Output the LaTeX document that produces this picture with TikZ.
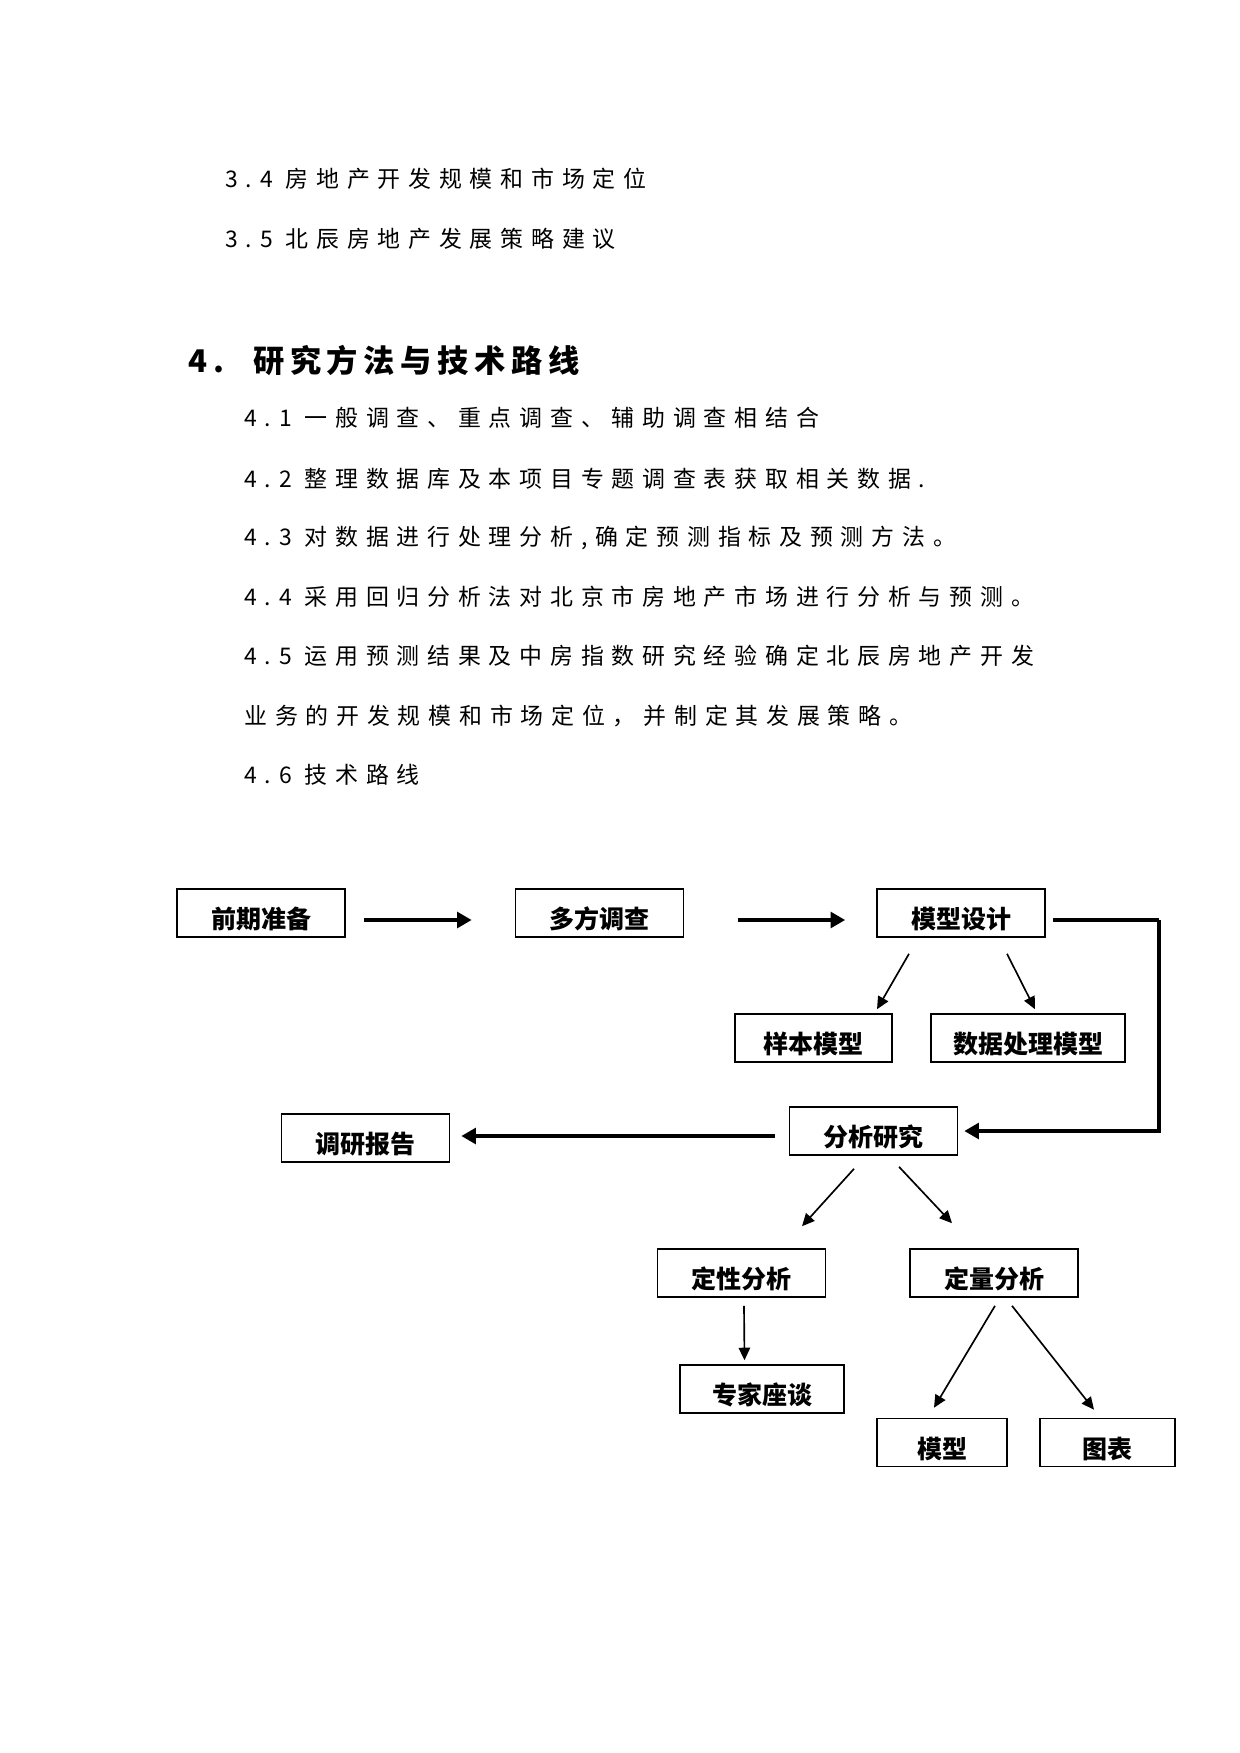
\documentclass[tikz,border=0pt]{standalone}
\usepackage{fontspec}
\setmainfont{Noto Sans CJK SC}
\newfontfamily\bodyfont{Noto Sans CJK SC}[LetterSpace=34]
\newfontfamily\headfont{Noto Sans CJK SC}[LetterSpace=18]
\usetikzlibrary{arrows.meta,calc,positioning}
% boxes of the route chart, text sits low in the box
\tikzstyle{route box}=[draw, line width=0.8pt, minimum width=80.6pt,
  minimum height=23pt, inner sep=2pt, text height=15pt, text depth=0pt,
  font=\bfseries\fontsize{12}{12}\selectfont]
\tikzstyle{bold arrow}=[line width=2pt, -{Triangle[length=7pt,width=7.5pt]}]
\tikzstyle{bold line}=[line width=2.2pt]
\tikzstyle{thin arrow}=[line width=0.8pt, -{Triangle[length=6pt,width=5.5pt]}]
\tikzstyle{body line}=[anchor=west, inner sep=0pt,
  font=\bodyfont\fontsize{11}{11}\selectfont]

\begin{document}
\begin{tikzpicture}[x=0.48pt, y=-0.48pt]
  \path[use as bounding box, fill=white] (0,0) rectangle (1240,1753);

  % text above the chart
  \node[body line] (sec34) at (225,179) {3.4 房地产开发规模和市场定位};
  \node[body line] (sec35) at (225,239) {3.5 北辰房地产发展策略建议};
  \node[anchor=west, inner sep=0pt, font=\headfont\bfseries\fontsize{15}{15}\selectfont]
    (sec4) at (188,360) {4.\hspace{14pt}研究方法与技术路线};
  \node[body line] (sec41) at (244,418) {4.1 一般调查、重点调查、辅助调查相结合};
  \node[body line] (sec42) at (244,479) {4.2 整理数据库及本项目专题调查表获取相关数据.};
  \node[body line] (sec43) at (244,538) {4.3 对数据进行处理分析,确定预测指标及预测方法。};
  \node[body line] (sec44) at (244,597) {4.4 采用回归分析法对北京市房地产市场进行分析与预测。};
  \node[body line] (sec45) at (244,656) {4.5 运用预测结果及中房指数研究经验确定北辰房地产开发};
  \node[body line] (sec45b) at (244,716) {业务的开发规模和市场定位，并制定其发展策略。};
  \node[body line] (sec46) at (244,775) {4.6 技术路线};

  % route chart
  \node[route box] (qianqi) at (261,913) {前期准备};
  \node[route box] (duofang) at (599.5,913) {多方调查};
  \node[route box] (sheji) at (961,913) {模型设计};
  \node[route box, minimum width=75.4pt] (yangben) at (813.5,1038) {样本模型};
  \node[route box, minimum width=93pt] (shuju) at (1028,1038) {数据处理模型};
  \node[route box] (fenxi) at (873.5,1131) {分析研究};
  \node[route box] (baogao) at (365.5,1138) {调研报告};
  \node[route box] (dingxing) at (741.5,1273) {定性分析};
  \node[route box] (dingliang) at (994,1273) {定量分析};
  \node[route box, minimum width=78.7pt] (zhuanjia) at (762,1389) {专家座谈};
  \node[route box, minimum width=62.4pt] (moxing) at (942,1442.5) {模型};
  \node[route box, minimum width=64.8pt] (tubiao) at (1107.5,1442.5) {图表};

  \draw[bold arrow] ($(qianqi.east)+(18,7)$) -- ($(duofang.west)+(-43,7)$);
  \draw[bold arrow] ($(duofang.east)+(54,7)$) -- ($(sheji.west)+(-31,7)$);
  \draw[bold line] ($(sheji.east)+(7,7)$) -- ++(106,0) coordinate (turn);
  \draw[bold arrow] (turn) |- ($(fenxi.east)+(6,0)$);
  \draw[bold arrow] ($(fenxi.west)+(-14,5)$) -- ($(baogao.east)+(11,-2)$);

  \draw[thin arrow] ($(sheji.south)+(-52,16)$) -- ($(yangben.north)+(63.5,-4)$);
  \draw[thin arrow] ($(sheji.south)+(46,16)$) -- ($(shuju.north)+(7,-4)$);
  \draw[thin arrow] ($(fenxi.south)+(-19.5,13)$) -- ($(dingxing.north)+(60.5,-22)$);
  \draw[thin arrow] ($(fenxi.south)+(25.5,11)$) -- ($(dingliang.north)+(-42,-25)$);
  \draw[thin arrow] ($(dingxing.south)+(2.5,8)$) -- ($(zhuanjia.north)+(-17.5,-4)$);
  \draw[thin arrow] ($(dingliang.south)+(1,8)$) -- ($(moxing.north)+(-8,-10)$);
  \draw[thin arrow] ($(dingliang.south)+(18,8)$) -- ($(tubiao.north)+(-13.5,-8)$);
\end{tikzpicture}
\end{document}
